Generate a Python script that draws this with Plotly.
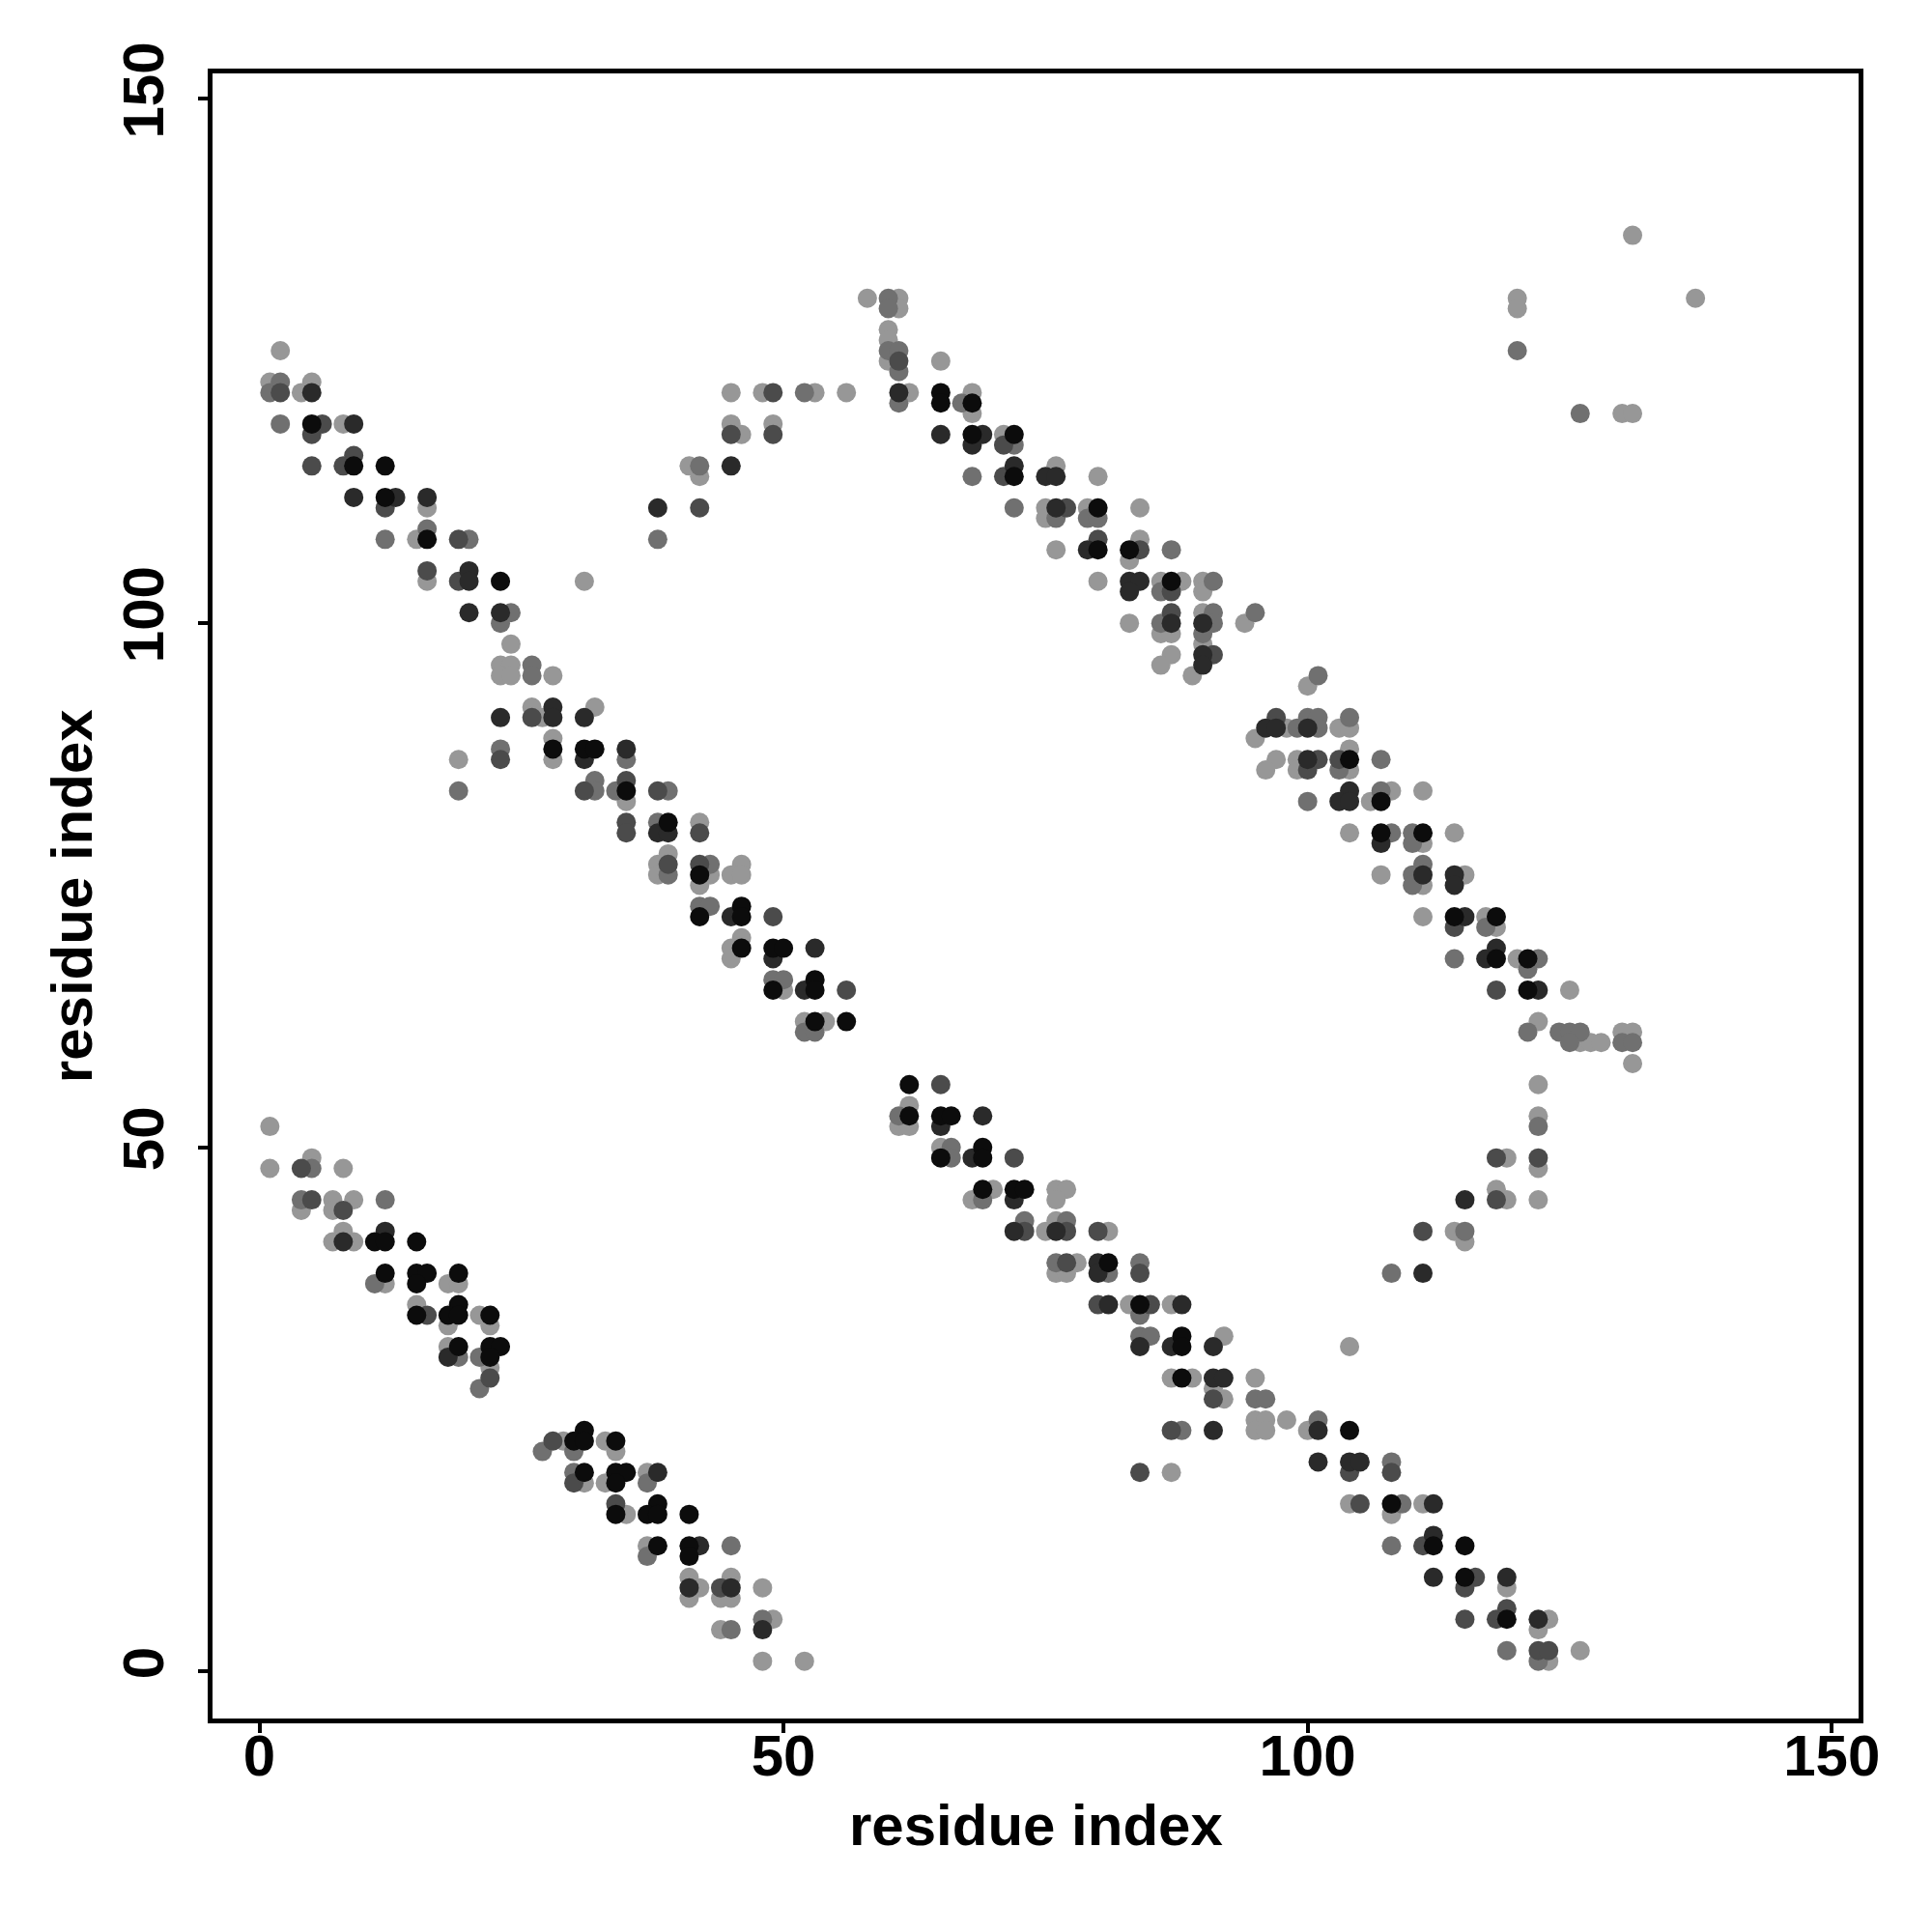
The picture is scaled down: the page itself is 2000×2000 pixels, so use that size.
import plotly.graph_objects as go

# Contact points grouped by gray level (1 = lightest ... 5 = darkest): residue i (x), residue j (y)
lvl1_x = [2,1,5,4,8,16,15,16,31,24,23,24,23,24,28,26,32,27,28,19,28,41,42,
          35,42,39,38,46,38,43,45,46,42,46,45,45,50,52,54,
          1,5,1,8,7,9,4,7,8,7,9,12,18,19,15,21,18,22,18,22,
          29,33,34,37,31,33,35,37,41,45,42,48,41,44,45,49,44,48,52,
          58,61,61,60,60,60,65,45,48,53,56,62,45,49,46,
          68,68,71,76,80,75,79,84,75,84,76,83,80,86,88,90,90,90,83,94,86,87,90,87,86,89,
          100,98,103,104,95,104,97,99,96,99,104,108,111,106,104,114,111,107,115,111,111,117,118,120,125,122,130,131,126,127,128,131,122,
          62,61,62,65,70,76,77,68,76,76,75,81,78,76,77,83,87,92,87,89,95,91,92,87,
          104,95,96,98,95,96,100,104,111,108,119,123,122,126,123,
          122,119,122,118,119,122,114,115,
          131,137,120,120,130,131]
lvl1_y = [126,123,123,122,119,111,108,104,104,98,96,96,95,95,95,92,92,91,89,87,87,115,114,
          83,81,78,77,77,76,76,76,76,75,70,69,68,65,62,62,
          52,49,48,48,45,45,44,44,42,41,41,37,37,37,35,34,33,33,31,29,
          22,22,21,19,18,18,15,12,9,9,8,8,7,7,7,5,4,1,1,
          131,131,130,128,127,125,125,122,122,122,122,122,119,119,118,
          122,120,118,115,114,111,111,111,110,108,107,106,104,104,104,104,103,101,100,100,99,99,98,97,96,95,
          94,90,90,90,89,88,87,87,86,86,86,84,84,83,80,80,79,76,76,75,72,72,71,68,65,62,61,61,60,60,60,58,56,
          54,52,52,50,46,46,46,45,45,43,42,42,39,38,38,35,35,32,28,28,28,27,26,19,
          31,24,24,24,23,23,23,16,16,15,8,5,4,2,1,
          53,49,48,46,45,45,42,41,
          137,131,131,130,120,120]

lvl2_x = [2,1,2,16,12,20,24,23,26,26,23,35,32,19,38,42,
          32,34,39,38,43,39,42,43,49,50,52,53,
          5,4,12,11,19,21,21,
          27,30,30,37,45,37,48,45,
          60,60,60,61,61,52,61,
          67,72,68,72,76,79,80,87,91,86,91,95,86,91,90,
          101,100,101,104,99,101,107,103,107,100,108,110,110,111,110,110,117,114,122,121,121,124,125,126,125,130,131,
          61,66,66,69,73,77,76,84,81,84,84,85,95,96,88,
          101,108,109,108,119,122,
          122,115,108,
          120,126]
lvl2_y = [123,122,119,109,108,108,101,100,96,95,88,87,85,84,108,115,
          84,84,84,81,77,76,73,73,66,66,61,61,
          48,45,45,37,30,30,27,
          21,21,19,18,12,11,5,4,
          131,130,126,126,124,122,121,
          121,117,114,111,110,110,110,107,104,103,101,101,100,100,99,
          95,91,91,91,90,90,87,86,84,83,80,80,79,77,76,75,71,68,68,67,61,61,61,61,60,60,60,
          53,50,49,45,43,43,39,39,38,34,32,32,26,26,23,
          24,20,16,12,2,1,
          52,42,38,
          126,120]

lvl3_x = [2,6,5,9,5,8,12,19,16,19,26,23,35,42,
          31,38,35,35,42,39,42,49,56,
          4,5,8,16,22,
          28,30,34,44,
          61,49,45,49,
          71,71,77,80,84,87,87,91,
          97,101,103,100,114,118,
          65,72,73,77,80,77,84,80,85,91,87,84,
          104,108,105,111,116,115,119,115,118,122,123,
          118,122,118,111]
lvl3_y = [122,119,118,116,115,115,111,108,105,104,91,87,85,111,
          84,84,81,80,80,77,77,72,65,
          48,45,44,34,28,
          22,18,16,8,
          125,122,118,118,
          117,114,111,108,107,103,101,97,
          91,87,87,86,71,65,
          56,49,42,42,42,39,38,35,35,26,23,19,
          19,19,16,12,9,8,6,5,5,2,2,
          49,49,45,42]

lvl4_x = [5,9,9,13,16,20,20,20,23,28,23,28,31,35,31,38,45,
          38,39,45,53,49,52,
          12,8,18,
          38,42,41,45,48,
          61,65,
          69,68,72,75,76,76,79,83,84,83,87,90,90,90,
          96,97,100,100,104,103,104,107,111,114,114,115,118,117,122,
          69,65,68,72,72,76,80,80,81,88,84,87,91,91,92,91,
          101,101,104,105,112,112,112,119,122,
          115,111]
lvl4_y = [122,119,112,112,112,105,104,101,101,92,91,91,91,88,87,111,115,
          80,80,72,69,68,65,
          42,41,30,
          19,12,8,8,4,
          122,118,
          118,117,115,114,114,111,107,104,104,103,100,100,97,96,
          90,90,90,87,84,83,83,79,76,76,75,72,69,68,65,
          53,52,49,45,42,42,39,38,35,35,31,31,31,28,28,23,
          23,20,20,20,16,13,9,9,5,
          45,38]

lvl5_x = [5,9,12,12,16,23,28,31,32,
          35,39,42,46,42,46,46,49,50,53,49,53,53,56,
          11,12,15,12,15,16,19,15,19,15,18,19,22,19,22,23,22,
          31,30,31,34,31,34,35,34,38,34,37,38,41,38,41,41,
          65,65,
          68,68,72,72,80,80,83,87,
          104,107,107,111,114,118,118,121,121,
          62,62,65,66,69,65,69,69,72,73,81,84,88,88,88,
          104,108,112,115,115,119]
lvl5_y = [119,115,115,112,108,104,88,88,88,
          84,81,76,73,72,72,69,69,69,66,65,65,62,62,
          41,41,41,38,38,38,38,37,35,34,34,34,34,31,31,31,30,
          23,22,22,22,19,19,19,18,16,15,15,15,15,12,12,11,
          122,121,
          121,118,118,114,111,107,107,104,
          87,83,80,80,72,72,68,68,65,
          56,53,53,53,50,49,49,46,46,46,39,35,32,31,28,
          23,16,12,12,9,5]

levels = [(lvl1_x, lvl1_y, "#979797"),
          (lvl2_x, lvl2_y, "#707070"),
          (lvl3_x, lvl3_y, "#4b4b4b"),
          (lvl4_x, lvl4_y, "#2a2a2a"),
          (lvl5_x, lvl5_y, "#0c0c0c")]

tick_vals = [0, 50, 100, 150]
axis_title = "residue index"

fig = go.Figure()
for xs, ys, col in levels:
    fig.add_trace(go.Scatter(x=xs, y=ys, mode="markers",
                             marker=dict(size=20, color=col, line=dict(width=0)),
                             showlegend=False, hoverinfo="skip"))

font_main = dict(family="Liberation Sans, Arial, sans-serif", size=60, color="black", weight="bold")

axis_common = dict(showgrid=False, zeroline=False, showline=True, linewidth=5,
                   linecolor="black", mirror=True, ticks="outside", ticklen=10,
                   tickwidth=4, tickcolor="black", tickvals=tick_vals,
                   tickfont=font_main)

fig.update_layout(
    width=2000, height=2000,
    margin=dict(l=211.5, r=83.5, t=67.5, b=228.5),
    plot_bgcolor="white", paper_bgcolor="white",
    xaxis=dict(range=[-4.47, 152.56], ticklabelstandoff=-28, **axis_common),
    yaxis=dict(range=[-4.47, 152.44], tickangle=-90, ticklabelstandoff=12, **axis_common),
    annotations=[
        dict(text=axis_title, xref="paper", yref="paper", x=0.5, y=-0.0648,
             xanchor="center", yanchor="middle", showarrow=False, font=font_main),
        dict(text=axis_title, xref="paper", yref="paper", x=-0.0853, y=0.5,
             xanchor="center", yanchor="middle", textangle=-90, showarrow=False, font=font_main),
    ],
)

fig.write_html("out.html")
